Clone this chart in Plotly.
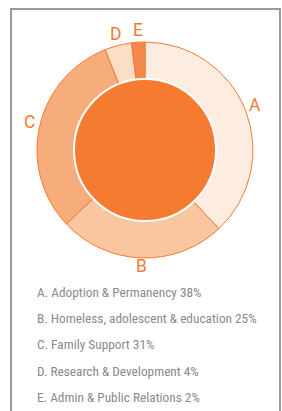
import math
import plotly.graph_objects as go

W, H = 282, 411
labels = ["A", "B", "C", "D", "E"]
names = ["Adoption & Permanency", "Homeless, adolescent & education", "Family Support",
         "Research & Development", "Admin & Public Relations"]
values = [38, 25, 31, 4, 2]
colors = ["#FDEDE1", "#F9C6A0", "#F7AC7B", "#FCDDC8", "#F4894C"]

cx, cy, R, r = 145, 150, 108, 70
ORANGE = "#F47B30"

def dom(rad):
    return dict(x=[(cx - rad) / W, (cx + rad) / W],
                y=[(H - cy - rad) / H, (H - cy + rad) / H])

fig = go.Figure()
fig.add_trace(go.Pie(
    labels=labels, values=values, sort=False, direction="clockwise", rotation=0,
    hole=r / R, domain=dom(R),
    marker=dict(colors=colors, line=dict(color=ORANGE, width=1)),
    textinfo="none", showlegend=False, hoverinfo="skip",
))
fig.add_trace(go.Pie(
    labels=["center"], values=[1], domain=dom(r + 1),
    marker=dict(colors=[ORANGE], line=dict(color="white", width=2)),
    textinfo="none", showlegend=False, hoverinfo="skip",
))

# slice labels placed at each slice's mid-angle, just outside the ring
total = sum(values)
cum = 0
for lab, v in zip(labels, values):
    mid = (cum + v / 2) / total * 2 * math.pi
    cum += v
    rl = R + 10
    px = cx + rl * math.sin(mid)
    py = cy - rl * math.cos(mid) - 2
    fig.add_annotation(x=px / W, y=(H - py) / H, xref="paper", yref="paper",
                       xanchor="center", yanchor="middle", showarrow=False,
                       text=lab, font=dict(size=17.5, color=ORANGE, family="Roboto"))

for i, (lab, nm, v) in enumerate(zip(labels, names, values)):
    fig.add_annotation(
        x=35 / W, y=(H - 292.5 - 26.2 * i) / H, xref="paper", yref="paper",
        xanchor="left", yanchor="middle", showarrow=False,
        text=f"{lab}. {nm} {v}%",
        font=dict(size=13.3, color="#8a8a8a", family="Roboto Condensed"),
    )

fig.add_shape(type="rect", xref="paper", yref="paper",
              x0=11 / W, x1=280 / W, y0=-0.05, y1=(H - 9) / H,
              line=dict(color="#9a9a9a", width=2), fillcolor="rgba(0,0,0,0)")

fig.update_layout(width=W, height=H, margin=dict(l=0, r=0, t=0, b=0),
                  paper_bgcolor="white", plot_bgcolor="white")
fig.write_html("out.html", config={"displayModeBar": False},
               post_script="document.body.style.margin='0';document.body.style.overflow='hidden';")
